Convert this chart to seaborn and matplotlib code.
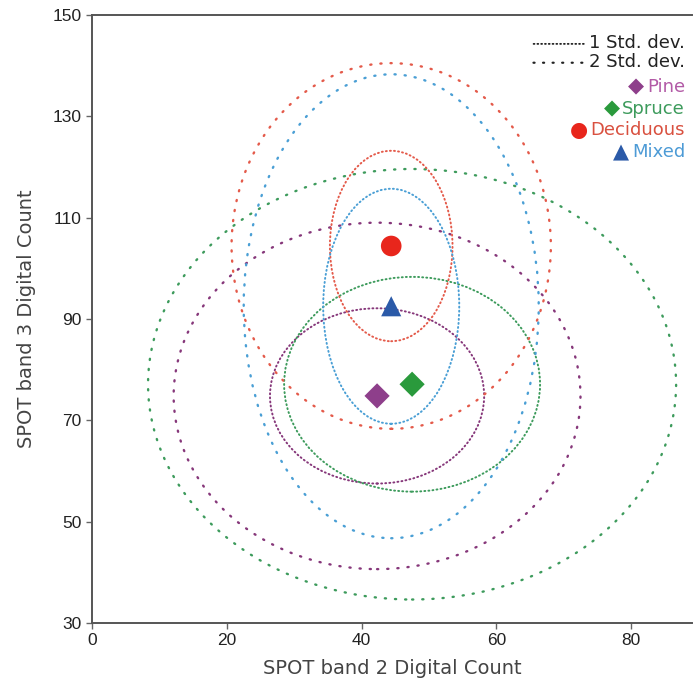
import numpy as np
import pandas as pd
import seaborn as sns
import matplotlib.pyplot as plt
from matplotlib.patches import Ellipse

# forest class statistics (SPOT band 2 / band 3 digital counts)
species = ["Pine", "Spruce", "Deciduous", "Mixed"]
mean_b2 = [42.3, 47.5, 44.4, 44.4]
mean_b3 = [74.8, 77.1, 104.4, 92.5]
# half-widths of the 1 and 2 std. dev. ellipses
sd1_b2 = [15.9, 19.0, 9.1, 10.1]
sd1_b3 = [17.3, 21.2, 18.8, 23.2]
sd2_b2 = [30.2, 39.2, 23.7, 21.9]
sd2_b3 = [34.2, 42.5, 36.1, 45.8]

x_ticks = [0, 20, 40, 60, 80]
y_ticks = [30, 50, 70, 90, 110, 130, 150]

marker_colors = {"Pine": "#8e3f8b", "Spruce": "#2a9a3c", "Deciduous": "#e8261c", "Mixed": "#2b5aa8"}
ring_colors = {"Pine": "#86377a", "Spruce": "#3d9b5c", "Deciduous": "#e45a4a", "Mixed": "#4a9fd5"}
text_colors = {"Pine": "#b25aa6", "Spruce": "#3d9b5c", "Deciduous": "#d9503f", "Mixed": "#4d9bd6"}
markers = {"Pine": "D", "Spruce": "D", "Deciduous": "o", "Mixed": "^"}
sizes = {"Pine": 165, "Spruce": 165, "Deciduous": 220, "Mixed": 210}

df = pd.DataFrame({"species": species, "b2": mean_b2, "b3": mean_b3})

sns.set_style("ticks")
plt.rcParams["font.family"] = ["Liberation Sans", "DejaVu Sans"]

fig = plt.figure(figsize=(6.93, 6.99), dpi=100)
ax = fig.add_axes([0.133, 0.109, 0.865, 0.8695])

dense = (0, (0.5, 1.6))
sparse = (0, (0.5, 3.8))

for i, sp in enumerate(species):
    for hw, hh, ls, lw in [(sd2_b2[i], sd2_b3[i], sparse, 1.7),
                           (sd1_b2[i], sd1_b3[i], dense, 1.4)]:
        ax.add_patch(Ellipse((mean_b2[i], mean_b3[i]), 2 * hw, 2 * hh,
                             fill=False, edgecolor=ring_colors[sp],
                             linestyle=ls, linewidth=lw, capstyle="round"))

sns.scatterplot(data=df, x="b2", y="b3", hue="species", style="species",
                size="species", palette=marker_colors, markers=markers,
                sizes=sizes, linewidth=0, legend=False, zorder=5, ax=ax)

ax.set_xlim(0, 89)
ax.set_ylim(30, 150)
ax.set_xticks(x_ticks)
ax.set_yticks(y_ticks)
ax.tick_params(labelsize=12.5, length=4, width=1, color="#666", labelcolor="#222")
for side in ["left", "bottom", "top"]:
    ax.spines[side].set_color("#555")
    ax.spines[side].set_linewidth(1.4)
ax.spines["right"].set_visible(False)

lab_font = dict(fontsize=14, color="#444", family="DejaVu Sans")
ax.set_xlabel("SPOT band 2 Digital Count", labelpad=8, **lab_font)
ax.set_ylabel("SPOT band 3 Digital Count", labelpad=12, **lab_font)

# hand-made key in the upper right corner
leg_font = dict(fontsize=13, family="DejaVu Sans")
for ypos, label, ls, lw in [(0.954, "1 Std. dev.", dense, 1.3), (0.923, "2 Std. dev.", sparse, 1.6)]:
    t = ax.text(0.989, ypos, label, transform=ax.transAxes, ha="right", va="center",
                color="#222", **leg_font)
    ax.annotate("", xy=(0, 0.45), xycoords=t, xytext=(-40, 0), textcoords="offset points",
                arrowprops=dict(arrowstyle="-", linestyle=ls, color="#222", lw=lw,
                                shrinkA=0, shrinkB=3))

glyphs = {"Pine": "\u25c6", "Spruce": "\u25c6", "Deciduous": "\u25cf", "Mixed": "\u25b2"}
for ypos, sp in zip([0.882, 0.846, 0.811, 0.774], species):
    t = ax.text(0.989, ypos, sp, transform=ax.transAxes, ha="right", va="center",
                color=text_colors[sp], **leg_font)
    ax.annotate(glyphs[sp], xy=(0, 0.5), xycoords=t, xytext=(-2, 0),
                textcoords="offset points", ha="right", va="center",
                color=marker_colors[sp], fontsize=15, family="DejaVu Sans")

fig.savefig("out.png", dpi=100)
